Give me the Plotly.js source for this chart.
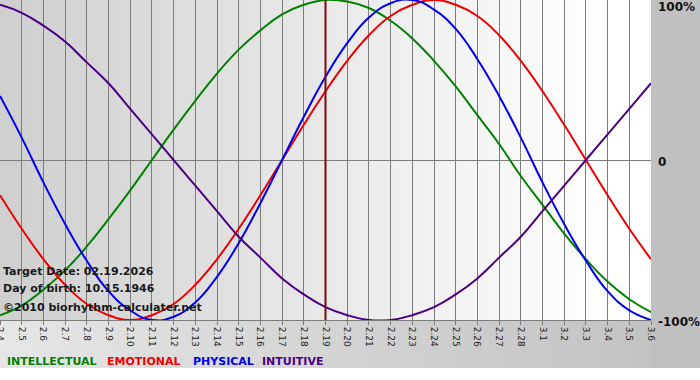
<!DOCTYPE html>
<html>
<head>
<meta charset="utf-8">
<script src="https://cdn.plot.ly/plotly-3.0.1.min.js"></script>
<style>html,body{margin:0;padding:0;background:#fff;}#chart{width:700px;height:380px;}</style>
</head>
<body>
<div id="chart"></div>
<script>
// ---- data ----
const days = ["2.4","2.5","2.6","2.7","2.8","2.9","2.10","2.11","2.12","2.13","2.14","2.15","2.16","2.17","2.18","2.19","2.20","2.21","2.22","2.23","2.24","2.25","2.26","2.27","2.28","3.1","3.2","3.3","3.4","3.5","3.6"];
const intellectual = [-0.97,-0.91,-0.81,-0.69,-0.54,-0.37,-0.19,0.00,0.19,0.37,0.54,0.69,0.81,0.91,0.97,1.00,0.99,0.95,0.87,0.76,0.62,0.46,0.28,0.10,-0.10,-0.28,-0.46,-0.62,-0.76,-0.87,-0.95];
const emotional = [-0.22,-0.43,-0.62,-0.78,-0.90,-0.97,-1.00,-0.97,-0.90,-0.78,-0.62,-0.43,-0.22,0.00,0.22,0.43,0.62,0.78,0.90,0.97,1.00,0.97,0.90,0.78,0.62,0.43,0.22,0.00,-0.22,-0.43,-0.62];
const physical = [0.40,0.14,-0.14,-0.40,-0.63,-0.82,-0.94,-1.00,-0.98,-0.89,-0.73,-0.52,-0.27,0.00,0.27,0.52,0.73,0.89,0.98,1.00,0.94,0.82,0.63,0.40,0.14,-0.14,-0.40,-0.63,-0.82,-0.94,-1.00];
const intuitive = [0.97,0.92,0.84,0.74,0.61,0.48,0.32,0.16,0.00,-0.16,-0.32,-0.48,-0.61,-0.74,-0.84,-0.92,-0.97,-1.00,-1.00,-0.97,-0.92,-0.84,-0.74,-0.61,-0.48,-0.32,-0.16,0.00,0.16,0.32,0.48];
const seriesNames = ["INTELLECTUAL","EMOTIONAL","PHYSICAL","INTUITIVE"];
const targetDay = "2.19";
const infoLines = ["Target Date: 02.19.2026","Day of birth: 10.15.1946","\u00a92010 biorhythm-calculater.net"];
const yTickText = ["100%","0","-100%"];

// ---- styling ----
const W = 700, H = 380, ML = 0, MR = 49, MT = 0, MB = 60;
const PW = W - ML - MR, PH = H - MT - MB;
const colors = ["#008000","#ee0000","#0000ee","#4b0082"];
const FONT = "DejaVu Sans, Verdana, sans-serif";
const px = x => (x - ML) / PW;
const py = y => 1 - (y - MT) / PH;

// background built on a canvas (gradients)
function makeBg() {
  const c = document.createElement('canvas');
  c.width = W; c.height = H;
  const g = c.getContext('2d');
  g.fillStyle = '#ffffff'; g.fillRect(0,0,W,H);
  let gr = g.createLinearGradient(0,0,W,0);
  gr.addColorStop(0,'#e6e6e6'); gr.addColorStop(1,'#c0c0c0');
  g.fillStyle = gr; g.fillRect(0, PH, W, 48);
  g.fillStyle = '#c0c0c0'; g.fillRect(PW, 0, W-PW, PH+48);
  gr = g.createLinearGradient(0,0,PW,0);
  gr.addColorStop(0,'#cfcfcf'); gr.addColorStop(0.93,'#ffffff'); gr.addColorStop(1,'#ffffff');
  g.fillStyle = gr; g.fillRect(0,0,PW,PH);
  return c.toDataURL('image/png');
}

const xIdx = days.map((d,i)=>i);
const series = [intellectual, emotional, physical, intuitive];
const traces = series.map((s,k)=>({
  x: xIdx, y: s, type:'scatter', mode:'lines', name: seriesNames[k],
  line:{color: colors[k], width: 2, shape:'spline', smoothing: 1.3},
  hoverinfo:'skip'
}));

const annotations = [];
const yLabelPix = [7, 162, 322];
yTickText.forEach((t,i)=>annotations.push({
  xref:'paper', yref:'paper', x: px(656), y: py(yLabelPix[i]), xanchor:'left', yanchor:'middle',
  text: '<b>'+t+'</b>', showarrow:false, font:{family:FONT, size:12, color:'#111'}
}));
const infoY = [271, 288, 307];
infoLines.forEach((t,i)=>annotations.push({
  xref:'paper', yref:'paper', x: px(1), y: py(infoY[i]), xanchor:'left', yanchor:'middle',
  text: '<b>'+t+'</b>', showarrow:false, font:{family:FONT, size:11, color:'#1a1a1a'}
}));
const legX = [5, 105, 191, 260];
seriesNames.forEach((t,i)=>annotations.push({
  xref:'paper', yref:'paper', x: px(legX[i]), y: py(361), xanchor:'left', yanchor:'middle',
  text: '<b>'+t+'</b>', showarrow:false, font:{family:FONT, size:11, color: colors[i]}
}));

const layout = {
  width: W, height: H,
  margin:{l:ML, r:MR, t:MT, b:MB, pad:0},
  paper_bgcolor:'#ffffff', plot_bgcolor:'rgba(0,0,0,0)',
  showlegend:false,
  xaxis:{
    range:[0, days.length-1], tickvals: xIdx, ticktext: days, tickangle: 90,
    ticklabeloverflow:'allow',
    showgrid:true, gridcolor:'#7c7c7c', gridwidth:1, zeroline:false,
    showline:true, linecolor:'#7c7c7c', linewidth:1,
    ticks:'outside', ticklen:4, tickcolor:'#7c7c7c',
    tickfont:{family:FONT, size:9, color:'#222'}, fixedrange:true
  },
  yaxis:{
    range:[-1, 1], showgrid:false, zeroline:true, zerolinecolor:'#7c7c7c', zerolinewidth:1,
    showticklabels:false, ticks:'', fixedrange:true
  },
  shapes:[{
    type:'line', xref:'x', yref:'y', x0: days.indexOf(targetDay), x1: days.indexOf(targetDay), y0:-1, y1:1,
    line:{color:'#7a0a0a', width:2}, layer:'above'
  }],
  images:[{
    source: makeBg(), xref:'paper', yref:'paper', x:0, y:1, sizex: W/PW, sizey: H/PH,
    xanchor:'left', yanchor:'top', sizing:'stretch', layer:'below'
  }],
  annotations: annotations
};

Plotly.newPlot('chart', traces, layout, {staticPlot:true, displayModeBar:false});
</script>
</body>
</html>
